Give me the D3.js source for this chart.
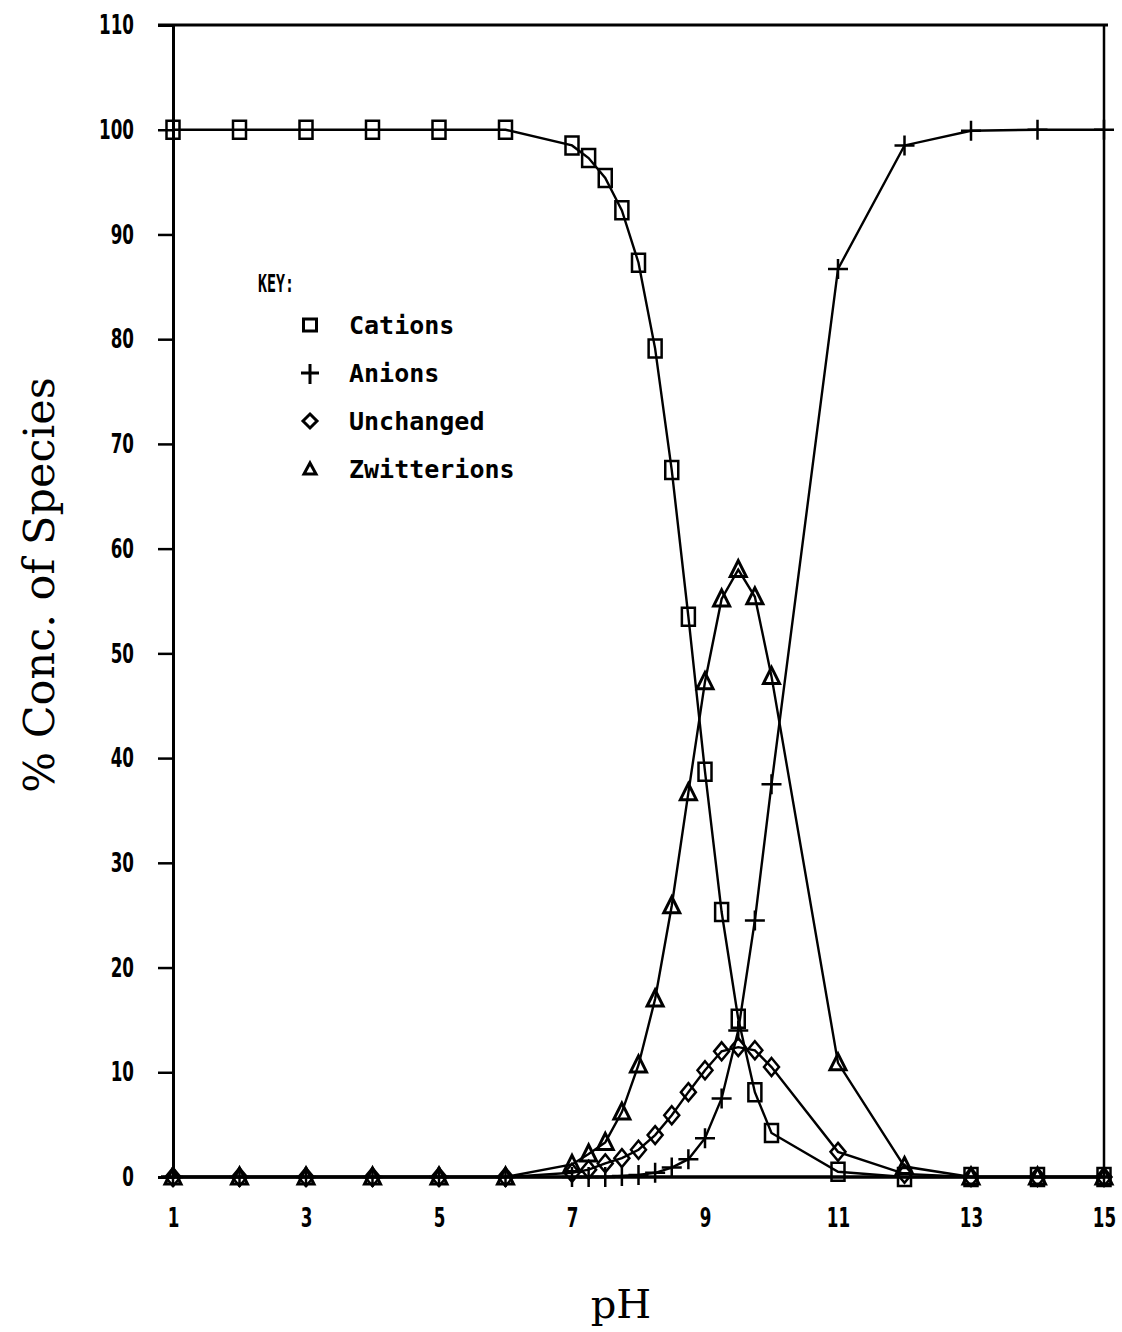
<!DOCTYPE html>
<html lang="en">
<head>
  <meta charset="UTF-8">
  <title>% Conc. of Species vs pH</title>
  <script src="https://d3js.org/d3.v7.min.js"></script>
  <style>
    body { margin: 0; background: #fff; }
    .tick-label { font-family: "DejaVu Sans", sans-serif; font-weight: bold; font-size: 27px; fill: #000; }
    .axis-title { font-family: "DejaVu Serif", "Liberation Serif", serif; fill: #000; }
    .key { font-family: "DejaVu Sans Mono", "Liberation Mono", monospace; font-weight: bold; fill: #000; }
  </style>
</head>
<body>
<svg id="chart" width="1122" height="1332"></svg>
<script>
  // data
  const pH = [1, 2, 3, 4, 5, 6, 7, 7.25, 7.5, 7.75, 8, 8.25, 8.5, 8.75, 9, 9.25, 9.5, 9.75, 10, 11, 12, 13, 14, 15];
  const cations     = [100, 100, 100, 100, 100, 100, 98.5, 97.3, 95.4, 92.3, 87.3, 79.1, 67.5, 53.5, 38.7, 25.3, 15.1, 8.1, 4.2, 0.5, 0, 0, 0, 0];
  const anions      = [0, 0, 0, 0, 0, 0, 0, 0, 0, 0.1, 0.2, 0.4, 0.9, 1.7, 3.7, 7.5, 14.0, 24.5, 37.5, 86.7, 98.5, 99.9, 100, 100];
  const unchanged   = [0, 0, 0, 0, 0, 0, 0.4, 0.7, 1.3, 1.8, 2.6, 4.0, 5.9, 8.1, 10.2, 12.0, 12.4, 12.1, 10.5, 2.4, 0.3, 0, 0, 0];
  const zwitterions = [0, 0, 0, 0, 0, 0, 1.2, 2.2, 3.3, 6.2, 10.7, 17.0, 25.9, 36.7, 47.3, 55.2, 58.0, 55.4, 47.8, 10.9, 1.0, 0, 0, 0];

  const xTicks = [1, 3, 5, 7, 9, 11, 13, 15];
  const yTicks = d3.range(0, 111, 10);
  const keyLabels = ["Cations", "Anions", "Unchanged", "Zwitterions"];

  const svg = d3.select("#chart");
  const x = d3.scaleLinear().domain([1, 15]).range([173, 1104]);
  const y = d3.scaleLinear().domain([0, 110]).range([1177, 25]);

  // marker path builders (centered at 0,0)
  const markers = {
    square: "M-6.5,-9H6.5V9H-6.5Z",
    plus: "M-10,0H10M0,-10V10",
    diamond: "M0,-9L7.5,0L0,9L-7.5,0Z",
    triangle: "M0,-9L8,7H-8Z"
  };

  const series = [
    { name: keyLabels[0], values: cations, marker: "square" },
    { name: keyLabels[1], values: anions, marker: "plus" },
    { name: keyLabels[2], values: unchanged, marker: "diamond" },
    { name: keyLabels[3], values: zwitterions, marker: "triangle" }
  ];

  // frame: top and right border
  svg.append("line").attr("x1", x(1) - 15).attr("x2", x(15) + 4)
    .attr("y1", y(110)).attr("y2", y(110))
    .attr("stroke", "#000").attr("stroke-width", 3);
  svg.append("line").attr("x1", x(15)).attr("x2", x(15))
    .attr("y1", y(110)).attr("y2", y(0) + 6)
    .attr("stroke", "#000").attr("stroke-width", 2.5);

  // condensed digits, like the plotter font
  const squeezeK = 0.62;
  function squeeze(sel) {
    sel.attr("class", "tick-label").each(function() {
      const t = d3.select(this);
      const x0 = +t.attr("x") || 0;
      t.attr("x", x0 / squeezeK).attr("transform", `scale(${squeezeK},1)`);
    });
  }

  // y axis
  const yAxis = svg.append("g")
    .attr("transform", `translate(${x(1)},0)`)
    .call(d3.axisLeft(y).tickValues(yTicks).tickSize(15).tickPadding(24));
  yAxis.select(".domain").attr("stroke-width", 3);
  yAxis.selectAll(".tick line").attr("stroke-width", 2.5);
  squeeze(yAxis.selectAll(".tick text"));

  // x axis
  const xAxis = svg.append("g")
    .attr("transform", `translate(0,${y(0)})`)
    .call(d3.axisBottom(x).tickValues(xTicks).tickSize(0).tickPadding(31));
  xAxis.select(".domain").attr("stroke-width", 3.5)
    .attr("d", `M${x(1) - 12},0H${x(15) + 6}`);
  squeeze(xAxis.selectAll(".tick text"));

  // lines
  const line = d3.line()
    .x((d, i) => x(pH[i]))
    .y(d => y(d))
    .curve(d3.curveLinear);

  series.forEach(s => {
    svg.append("path")
      .datum(s.values)
      .attr("d", line)
      .attr("fill", "none")
      .attr("stroke", "#000")
      .attr("stroke-width", 2.4);
  });

  // markers
  series.forEach(s => {
    svg.append("g").selectAll("path")
      .data(s.values)
      .join("path")
      .attr("transform", (d, i) => `translate(${x(pH[i])},${y(d)})`)
      .attr("d", markers[s.marker])
      .attr("fill", "none")
      .attr("stroke", "#000")
      .attr("stroke-width", s.marker === "triangle" ? 3 : 2.5);
  });

  // key
  const key = svg.append("g");
  key.append("text").attr("class", "key")
    .attr("x", 258).attr("y", 292)
    .attr("font-size", 24)
    .attr("textLength", 36).attr("lengthAdjust", "spacingAndGlyphs")
    .text("KEY:");
  const keyMarkers = {
    square: "M-6.5,-6H6.5V6H-6.5Z",
    plus: "M-9,0H9M0,-9V11",
    diamond: "M0,-7L7,0L0,7L-7,0Z",
    triangle: "M0,-6L6,5H-6Z"
  };
  series.forEach((s, i) => {
    const cy = 325 + i * 48;
    key.append("path")
      .attr("transform", `translate(310,${cy})`)
      .attr("d", keyMarkers[s.marker])
      .attr("fill", "none")
      .attr("stroke", "#000")
      .attr("stroke-width", 3);
    key.append("text").attr("class", "key")
      .attr("x", 349).attr("y", cy + 9)
      .attr("font-size", 25)
      .text(s.name);
  });

  // axis titles
  svg.append("text").attr("class", "axis-title")
    .attr("transform", `translate(54,585) rotate(-90)`)
    .attr("text-anchor", "middle")
    .attr("font-size", 43)
    .text("% Conc. of Species");
  svg.append("text").attr("class", "axis-title")
    .attr("x", 621).attr("y", 1318)
    .attr("text-anchor", "middle")
    .attr("font-size", 40)
    .text("pH");
</script>
</body>
</html>
